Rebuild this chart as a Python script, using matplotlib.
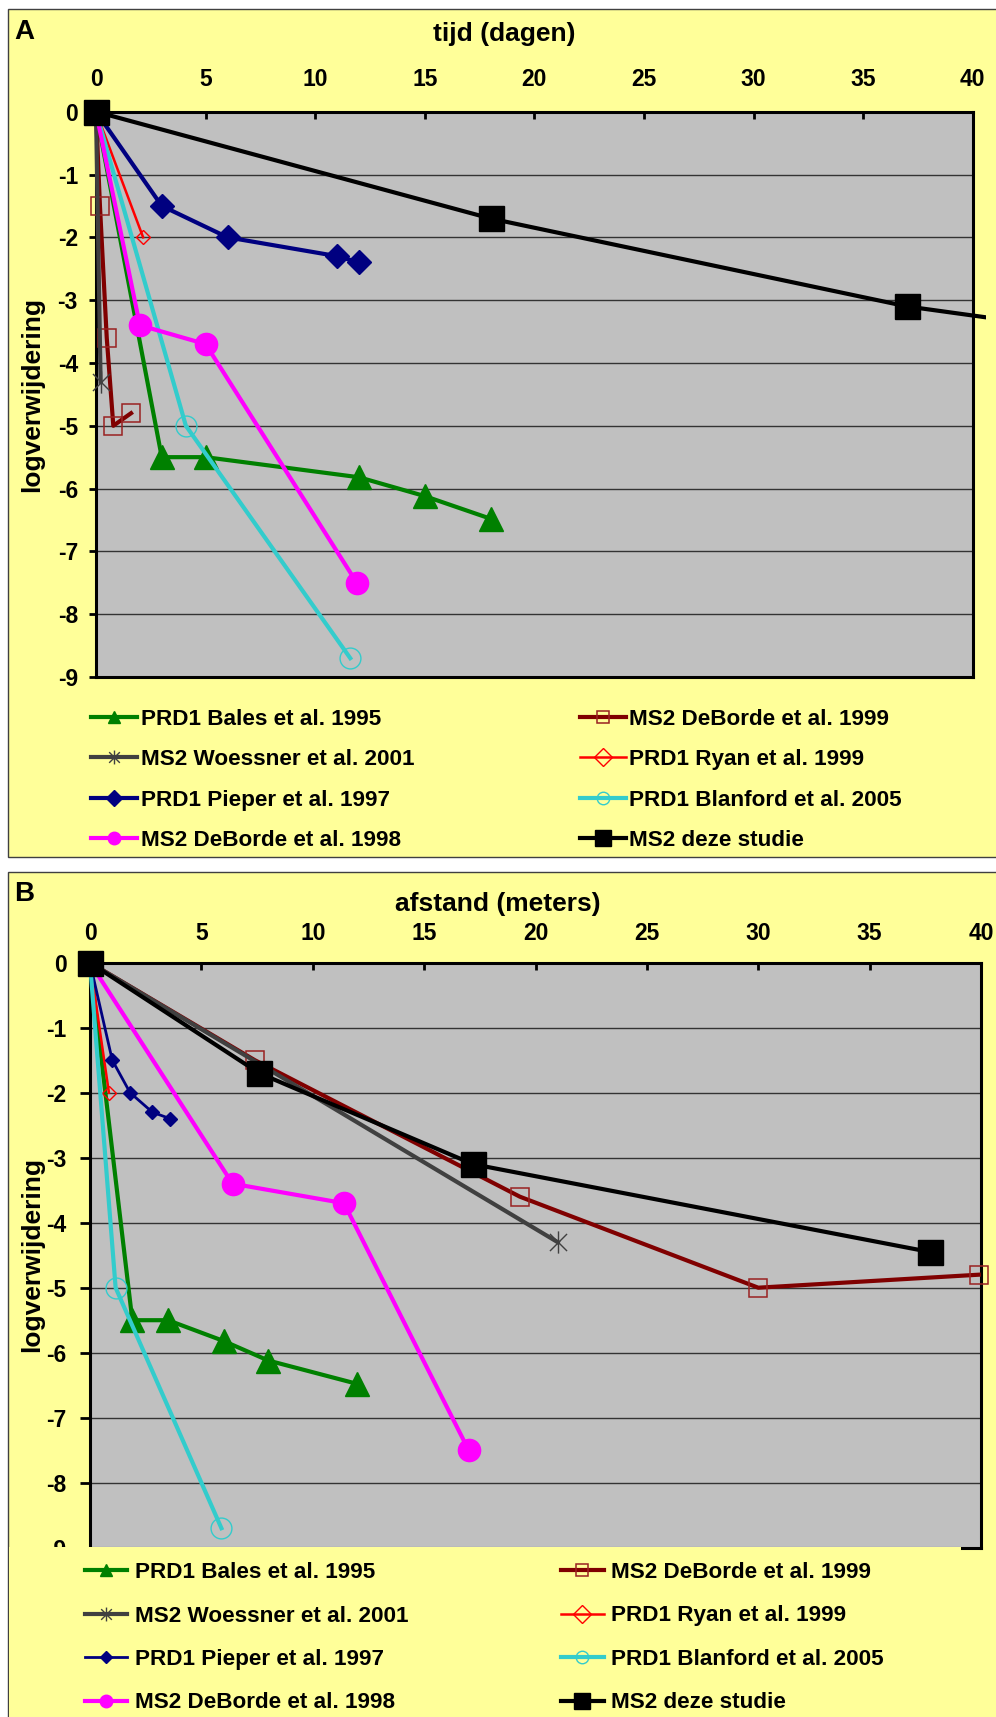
import matplotlib
matplotlib.use('Agg')
import matplotlib.pyplot as plt
from matplotlib.lines import Line2D
from matplotlib.patches import Rectangle
from matplotlib.path import Path
import matplotlib.ticker as mticker

plt.rcParams['font.family'] = ['Liberation Sans', 'DejaVu Sans']
plt.rcParams['font.weight'] = 'bold'

W, H, DPI = 996, 1717, 100

# ---------------- data ----------------
labels = ["PRD1 Bales et al. 1995", "MS2 DeBorde et al. 1999",
          "MS2 Woessner et al. 2001", "PRD1 Ryan et al. 1999",
          "PRD1 Pieper et al. 1997", "PRD1 Blanford et al. 2005",
          "MS2 DeBorde et al. 1998", "MS2 deze studie"]

bales_t = [0, 3, 5, 12, 15, 18]
bales_m = [0, 1.9, 3.5, 6.0, 8.0, 12.0]
bales_log = [0, -5.5, -5.5, -5.82, -6.12, -6.48]

deborde99_t = [0, 0.18, 0.49, 0.79, 1.6]
deborde99_m = [0, 7.4, 19.3, 30.0, 39.9]
deborde99_log = [0, -1.5, -3.6, -5.0, -4.8]

woessner_t = [0, 0.21]
woessner_m = [0, 21.0]
woessner_log = [0, -4.3]

ryan_t = [0, 2.15]
ryan_m = [0, 0.85]
ryan_log = [0, -2.0]

pieper_t = [0, 3, 6, 11, 12]
pieper_m = [0, 1.0, 1.8, 2.8, 3.6]
pieper_log = [0, -1.5, -2.0, -2.3, -2.4]

blanford_t = [0, 4.1, 11.6]
blanford_m = [0, 1.15, 5.9]
blanford_log = [0, -5.0, -8.7]

deborde98_t = [0, 2.0, 5.0, 11.9]
deborde98_m = [0, 6.4, 11.4, 17.0]
deborde98_log = [0, -3.4, -3.7, -7.5]

deze_t = [0, 18, 37, 65]
deze_m = [0, 7.6, 17.2, 37.7]
deze_log = [0, -1.7, -3.1, -4.45]

x_ticks = [0, 5, 10, 15, 20, 25, 30, 35, 40]
y_ticks = [0, -1, -2, -3, -4, -5, -6, -7, -8, -9]

# ---------------- styles ----------------
ast = Path([(-1, -1), (1, 1), (-1, 1), (1, -1), (0, -1.3), (0, 1.3)],
           [Path.MOVETO, Path.LINETO, Path.MOVETO, Path.LINETO, Path.MOVETO, Path.LINETO])

LW = 3.0
styles = [
    dict(color='#008000', lw=LW, marker='^', ms=17, mfc='#008000', mec='#008000'),
    dict(color='#800000', lw=LW, marker='s', ms=13, mfc='none', mec='#992222', mew=1.1),
    dict(color='#404040', lw=LW, marker=ast, ms=16, mfc='none', mec='#404040', mew=1.0),
    dict(color='#FF0000', lw=1.8, marker='D', ms=7, mfc='none', mec='#FF0000', mew=1.0),
    dict(color='#000080', lw=LW, marker='D', ms=12, mfc='#000080', mec='#000080'),
    dict(color='#33CCCC', lw=LW, marker='o', ms=15, mfc='none', mec='#33CCCC', mew=1.0),
    dict(color='#FF00FF', lw=LW, marker='o', ms=16, mfc='#FF00FF', mec='#FF00FF'),
    dict(color='#000000', lw=LW, marker='s', ms=18, mfc='#000000', mec='#000000'),
]
legend_ms = [9, 9, 10, 9, 8, 9, 9, 12]

fig = plt.figure(figsize=(W / DPI, H / DPI), dpi=DPI)
fig.patch.set_facecolor('white')


def fx(x):
    return x / W


def fy(y):
    return 1 - y / H


def add_rect(x0, y0, x1, y1, z, edge=True):
    r = Rectangle((fx(x0), fy(y1)), fx(x1) - fx(x0), fy(y0) - fy(y1),
                  transform=fig.transFigure, facecolor='#FFFF99',
                  edgecolor='#404040' if edge else 'none', lw=1.0 if edge else 0,
                  zorder=z)
    fig.add_artist(r)


add_rect(7.5, 9.5, 1005, 857, -5)
add_rect(7.5, 872, 1005, 1730, -5)


def make_axes(l, r, t, b):
    return fig.add_axes([fx(l), fy(b), fx(r) - fx(l), fy(t) - fy(b)])


def style_axes(ax, xpad, ylen, ypad):
    ax.set_facecolor('#C0C0C0')
    ax.set_xlim(0, 40)
    ax.set_ylim(-9, 0)
    ax.set_xticks(x_ticks)
    ax.set_yticks(y_ticks)
    fmt = mticker.FuncFormatter(lambda v, p: str(int(round(v))))
    ax.xaxis.set_major_formatter(fmt)
    ax.yaxis.set_major_formatter(fmt)
    ax.xaxis.tick_top()
    ax.tick_params(axis='x', direction='in', length=5, width=2, pad=xpad,
                   labelsize=16.5, colors='black')
    ax.tick_params(axis='y', direction='out', length=ylen, width=2, pad=ypad,
                   labelsize=16.5, colors='black', right=False)
    for s in ax.spines.values():
        s.set_linewidth(2.2)
        s.set_color('black')
    ax.yaxis.grid(True, color='#333333', lw=1.0)
    ax.set_axisbelow(True)


def plot_series(ax, xs, ys, clip_right):
    clip = Rectangle((-0.06, -0.06), clip_right + 0.06, 1.12, transform=ax.transAxes)
    for x, y, st in zip(xs, ys, styles):
        ln, = ax.plot(x, y, zorder=3, **st)
        ln.set_clip_path(clip)


logs = [bales_log, deborde99_log, woessner_log, ryan_log, pieper_log,
        blanford_log, deborde98_log, deze_log]

# ---------------- panel A ----------------
axA = make_axes(96, 972.7, 111.7, 677)
style_axes(axA, 15, 5, 8)
plot_series(axA, [bales_t, deborde99_t, woessner_t, ryan_t, pieper_t,
                  blanford_t, deborde98_t, deze_t], logs, 1.0152)

# ---------------- panel B ----------------
axB = make_axes(90, 981, 962.7, 1547.7)
style_axes(axB, 13, 7, 10)
plot_series(axB, [bales_m, deborde99_m, woessner_m, ryan_m, pieper_m,
                  blanford_m, deborde98_m, deze_m], logs, 1.03)
# thinner Pieper line with small markers in panel B
for ln in axB.lines:
    if ln.get_color() == '#000080':
        ln.set_linewidth(2.0)
        ln.set_markersize(7)

# cover strip of legend B over the bottom of the plot area
add_rect(8.5, 1546.5, 961, 1730, 1, edge=False)

# ---------------- texts ----------------
fig.text(fx(24), fy(32), 'A', fontsize=20, ha='center', va='center')
fig.text(fx(24), fy(894), 'B', fontsize=20, ha='center', va='center')
fig.text(fx(504), fy(41), 'tijd (dagen)', fontsize=19, ha='center', va='baseline')
fig.text(fx(498), fy(911), 'afstand (meters)', fontsize=19, ha='center', va='baseline')
fig.text(fx(32), fy(394), 'logverwijdering', fontsize=19, rotation=90,
         ha='center', va='center')
fig.text(fx(32), fy(1255), 'logverwijdering', fontsize=19, rotation=90,
         ha='center', va='center')

# ---------------- legends ----------------
LFS = 16.2
LFS_PX = LFS * DPI / 72


def handles_for(idx, small_pieper=False):
    hs = []
    for i in idx:
        st = dict(styles[i])
        st['ms'] = legend_ms[i]
        if small_pieper and i == 4:
            st['lw'] = 2.0
            st['ms'] = 6
        hs.append(Line2D([], [], **st))
    return hs


def add_legend(idx, xh, ytop, hlen, xt, spacing, small=False):
    leg = fig.legend(handles=handles_for(idx, small), labels=[labels[i] for i in idx],
                     loc='upper left', bbox_to_anchor=(fx(xh), fy(ytop)),
                     bbox_transform=fig.transFigure, frameon=False,
                     borderpad=0, borderaxespad=0, numpoints=1,
                     handlelength=hlen / LFS_PX, handletextpad=(xt - xh - hlen) / LFS_PX,
                     labelspacing=spacing, prop={'size': LFS, 'weight': 'bold'})
    leg.set_zorder(6)
    return leg


col1 = [0, 2, 4, 6]
col2 = [1, 3, 5, 7]
add_legend(col1, 91, 709, 46, 141, 0.86)
add_legend(col2, 580, 709, 46, 629, 0.86)
add_legend(col1, 84.5, 1562, 42.5, 135, 1.0, small=True)
add_legend(col2, 561, 1562, 42.5, 611, 1.0, small=True)

fig.savefig('out.png', dpi=DPI, facecolor='white')
